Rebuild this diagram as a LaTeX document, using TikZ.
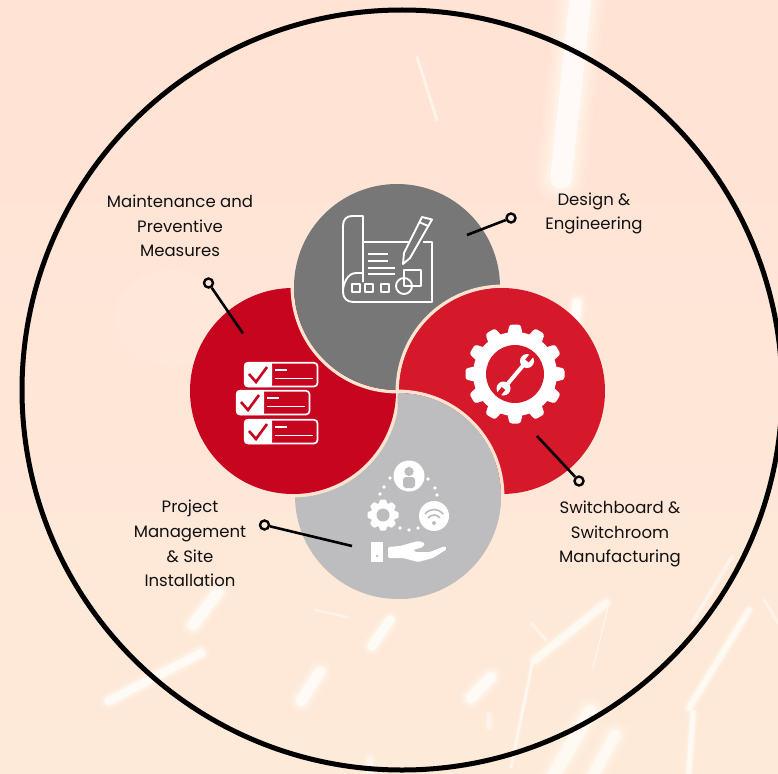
\documentclass[tikz,border=0pt]{standalone}
\usepackage{fontspec}
\setmainfont{Poppins}
\definecolor{bgtop}{HTML}{FFE4D6}
\definecolor{bgbot}{HTML}{FEEAD9}
\definecolor{cream}{HTML}{FBE3CF}
\definecolor{gdark}{HTML}{777777}
\definecolor{gpale}{HTML}{BDBDBF}
\definecolor{redl}{HTML}{C8051F}
\definecolor{redr}{HTML}{D6182B}
\definecolor{inkc}{HTML}{111111}
\definecolor{glow}{HTML}{FFFBF0}
\newcommand{\glowline}[3]{%
  \draw[glow,opacity=.10*#3,line width=#1*1.9pt,line cap=round] #2;
  \draw[glow,opacity=.16*#3,line width=#1*1.6pt,line cap=round] #2;
  \draw[glow,opacity=.25*#3,line width=#1*1.3pt,line cap=round] #2;
  \draw[glow,opacity=.35*#3,line width=#1*1.05pt,line cap=round] #2;
  \draw[white,opacity=.7*#3,line width=#1*0.8pt,line cap=round] #2;}
\newcommand{\petalover}[4]{% lower centre, upper centre, upper colour
  \begin{scope}
    \clip #1 circle [radius=103pt];
    \draw[cream,line width=3.4pt] #2 circle [radius=104.7pt];
  \end{scope}
  \fill[#3] #2 circle [radius=103pt];}
\tikzset{
  label text/.style={align=center,text=inkc,font=\fontsize{16.5}{24.7}\selectfont,inner sep=0pt},
  pin/.style={circle,draw=black,fill=none,line width=2.4pt,minimum size=9pt,inner sep=0pt},
  connector/.style={draw=black,line width=2.6pt},
  icon line/.style={draw=white,line width=1.9pt,line join=round},
}
\begin{document}
\begin{tikzpicture}[x=1pt,y=-1pt]
\useasboundingbox (0,0) rectangle (778,773);
% background
\fill[bgtop] (0,0) rectangle (778,773);
\shade[top color=bgtop,bottom color=bgbot] (0,150) rectangle (778,773);
\fill[glow,opacity=.10] (172,318) ellipse [x radius=58pt,y radius=48pt];
\glowline{2.5}{(417,57) -- (437,120)}{.6}
\glowline{27}{(582,-15) -- (561,178)}{1}
\glowline{11}{(577,303) -- (575,322)}{1}
\glowline{13}{(218,592) -- (193,625)}{1}
\glowline{10}{(201,653) -- (109,701)}{1}
\glowline{11}{(390,620) -- (372,646)}{1}
\glowline{13}{(320,672) -- (301,701)}{1}
\glowline{13}{(491,677) -- (471,698)}{1}
\glowline{9}{(606,603) -- (535,660)}{.8}
\glowline{3}{(533,660) -- (511,767)}{.7}
\glowline{7}{(749,610) -- (689,708)}{.8}
\glowline{6}{(693,713) -- (688,785)}{.8}
\glowline{16}{(590,712) -- (548,785)}{.8}
\glowline{14}{(615,735) -- (588,785)}{.8}
\glowline{8}{(370,760) -- (370,785)}{.6}
\glowline{4}{(732,557) -- (692,623)}{.5}
\glowline{3}{(764,600) -- (778,623)}{.5}
\glowline{3}{(315,610) -- (347,617)}{.4}
\glowline{6}{(489,715) -- (489,727)}{.5}
\glowline{3}{(531,623) -- (546,640)}{.5}
\glowline{1.5}{(608,607) -- (593,668)}{.5}
% outer ring
\draw[black,line width=5pt] (402,390) circle [radius=380pt];
% pinwheel
\fill[gpale] (398,496) circle [radius=103pt];
\petalover{(398,496)}{(293,391)}{redl}{}
\petalover{(293,391)}{(397,287)}{gdark}{}
\petalover{(397,287)}{(502,391)}{redr}{}
\begin{scope}
  \clip (397.5,385) rectangle (520,610);
  \petalover{(502,391)}{(398,496)}{gpale}{}
\end{scope}
% blueprint icon
\draw[icon line,rounded corners=1pt] (363,242) -- (412,242);
\draw[icon line] (423,242) -- (432,242) -- (432,302) -- (352,302);
\draw[icon line] (363,282) -- (363,216) -- (352,216) .. controls (346,216) and (343,220) .. (343,226) -- (343,292) .. controls (343,298) and (347,302) .. (353,302);
\draw[icon line] (343,291) .. controls (343,285) and (347,273) .. (356,273) -- (363,273);
\foreach \ya/\xb in {254/388,261/388,268/395,274/395} \draw[icon line] (368,\ya) -- (\xb,\ya);
\foreach \xa in {356,369,385} \draw[icon line] (\xa-4,284) rectangle (\xa+4,292);
\draw[icon line,fill=gdark] (403,264) -- (404,253) -- (422,217) -- (432,219.5) -- (410,258) -- cycle;
\draw[icon line] (419,222) -- (428,226);
\draw[icon line] (404,286) circle [radius=8pt];
\draw[icon line] (404,278) -- (404,270) -- (421,270) -- (421,286) -- (412,286);
\draw[icon line] (404,278) -- (404,286) -- (412,286);
% checklist icon
\foreach \xo/\yo in {244/362,236/390,244/419}{
  \begin{scope}[shift={(\xo,\yo)}]
    \draw[draw=white,line width=1.7pt,rounded corners=3.5pt] (0.8,0.8) rectangle (73.5,24.5);
    \fill[white,rounded corners=3.5pt] (0,0) -- (28,0) -- (28,25) -- (0,25) -- cycle;
    \fill[white] (10,0) rectangle (28,25);
    \draw[redl,line width=2.6pt] (5,12) -- (12,20) -- (23,5);
    \draw[white,line width=1.7pt] (31,8) -- (43,8);
    \draw[white,line width=1.7pt] (31,16.5) -- (69,16.5);
  \end{scope}
}
% gear and wrench icon
\fill[white] (515,374) circle [radius=42pt];
\foreach \ang in {0,30,...,330}
  \fill[white,rotate around={\ang:(515,374)},rounded corners=2.5pt] (515+38,374-8) -- (515+49.5,374-5.5) -- (515+49.5,374+5.5) -- (515+38,374+8) -- cycle;
\fill[redr] (515,374) circle [radius=29pt];
\draw[white,line width=4pt] (505,387) -- (526,362);
\fill[white] (503.5,388.5) circle [radius=7pt];
\fill[white] (527,361) circle [radius=7pt];
\draw[redr,line width=4.5pt] (503.5,388.5) -- (497,396.5);
\draw[redr,line width=4.5pt] (527,361) -- (533.5,353);
% service icon
\fill[white] (409,476) circle [radius=15.5pt];
\fill[gpale] (409,471.5) circle [radius=4.6pt];
\fill[gpale,rounded corners=3pt] (403,477) rectangle (415,488);
\fill[white] (434,516) circle [radius=15pt];
\draw[gpale,line width=1.7pt] (425,514) .. controls (430,508) and (438,508) .. (443,514);
\draw[gpale,line width=1.7pt] (428,518) .. controls (431,514) and (437,514) .. (440,518);
\fill[gpale] (434,523) circle [radius=2pt];
\fill[white] (383,515) circle [radius=12.5pt];
\foreach \ang in {0,45,...,315}
  \fill[white,rotate around={\ang:(383,515)},rounded corners=1pt] (383+10,515-4.5) -- (383+15.5,515-3) -- (383+15.5,515+3) -- (383+10,515+4.5) -- cycle;
\fill[gpale] (383,515) circle [radius=6.5pt];
\foreach \xa/\ya in {390/478,384/487,380/494,428/479,435/488,437/495,400/528,409/530,418/528}
  \fill[white] (\xa,\ya) circle [radius=1.9pt];
\fill[white] (371,542) rectangle (383,562);
\fill[gpale] (377,556) circle [radius=1.3pt];
\fill[white,rounded corners=1.5pt] (388,547) -- (400,546) -- (418,541) -- (425,543) -- (423,547) -- (413,550) -- (415,552) -- (430,552) -- (445,546) -- (447,549) -- (433,558) -- (418,562) -- (403,558) -- (388,558) -- cycle;
% labels
\node[label text] (maint) at (180,226) {Maintenance and\\Preventive\\Measures};
\node[label text] (design) at (594,213.5) {Design \&\\Engineering};
\node[label text] (project) at (190,543.5) {Project\\Management\\\& Site\\Installation};
\node[label text] (switch) at (620,534) {Switchboard \&\\Switchroom\\Manufacturing};
% connectors
\node[pin] (pd) at (511,218) {};
\node[pin] (pm) at (208.5,283) {};
\node[pin] (ps) at (579,481) {};
\node[pin] (pp) at (264.5,525) {};
\coordinate (ed) at (467,235);
\coordinate (em) at (243,333.5);
\coordinate (es) at (537,436);
\coordinate (ep) at (352,546);
\draw[connector] (pd) -- (ed);
\draw[connector] (pm) -- (em);
\draw[connector] (ps) -- (es);
\draw[connector] (pp) -- (ep);
\end{tikzpicture}
\end{document}
